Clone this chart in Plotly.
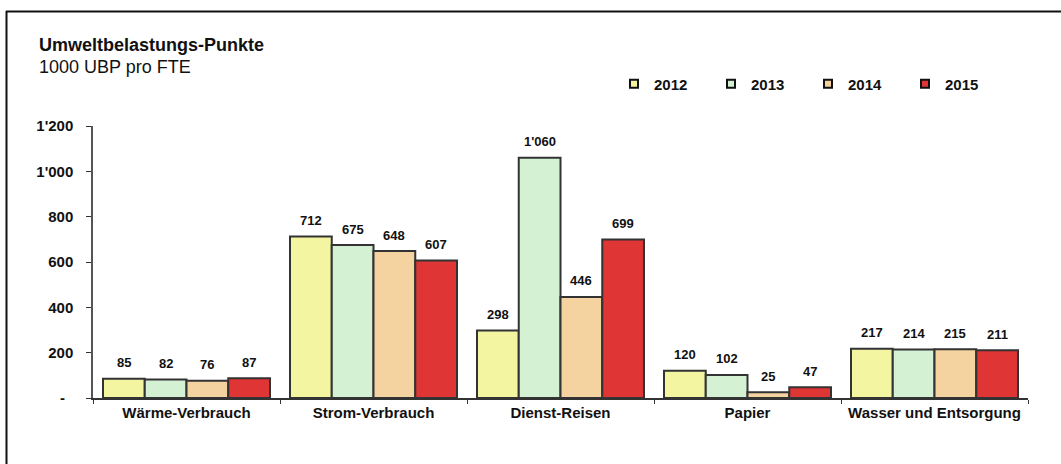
import plotly.graph_objects as go

categories = ["Wärme-Verbrauch", "Strom-Verbrauch", "Dienst-Reisen", "Papier", "Wasser und Entsorgung"]
years = ["2012", "2013", "2014", "2015"]
values = {
    "2012": [85, 712, 298, 120, 217],
    "2013": [82, 675, 1060, 102, 214],
    "2014": [76, 648, 446, 25, 215],
    "2015": [87, 607, 699, 47, 211],
}
colors = {"2012": "#f3f5a0", "2013": "#d4f1d4", "2014": "#f4d3a0", "2015": "#df3535"}
tick_vals = [0, 200, 400, 600, 800, 1000, 1200]
tick_text = ["-\u00a0\u00a0", "200", "400", "600", "800", "1'000", "1'200"]

def fmt(v):
    return f"{v:,}".replace(",", "'")

W, H = 1061, 464
L, R, T, B = 93, 33, 126, 66
plot_w = W - L - R
plot_h = H - T - B
bargap = 0.107
cat_w = plot_w / len(categories)
bar_w = cat_w * (1 - bargap) / len(years)

fig = go.Figure()
for i, y in enumerate(years):
    fig.add_trace(go.Bar(
        x=categories, y=values[y], name=y, showlegend=False,
        marker=dict(color=colors[y], line=dict(color="#333333", width=2)),
    ))
    # legend proxy
    fig.add_trace(go.Scatter(
        x=[None], y=[None], mode="markers", name=y,
        marker=dict(symbol="square", size=8, color=colors[y], line=dict(color="#111111", width=2)),
    ))

annotations = []
for i, y in enumerate(years):
    for c, v in zip(categories, values[y]):
        annotations.append(dict(
            x=c, y=v, xref="x", yref="y", text=f"<b>{fmt(v)}</b>", showarrow=False,
            xshift=(i - 1.5) * bar_w, yshift=16,
            font=dict(family="Liberation Sans Narrow, Arial Narrow, Liberation Sans, Arial", size=13, color="#111111"),
        ))

annotations.append(dict(
    xref="paper", yref="paper", x=(37 - L) / plot_w, y=(H - B - 45) / plot_h,
    xanchor="left", yanchor="middle", showarrow=False,
    text="<b>Umweltbelastungs-Punkte</b>",
    font=dict(family="Liberation Sans, Arial", size=18, color="#111111"),
))
annotations.append(dict(
    xref="paper", yref="paper", x=(37 - L) / plot_w, y=(H - B - 67) / plot_h,
    xanchor="left", yanchor="middle", showarrow=False,
    text="1000 UBP pro FTE",
    font=dict(family="Liberation Sans, Arial", size=18, color="#111111"),
))

fig.update_layout(
    width=W, height=H,
    margin=dict(l=L, r=R, t=T, b=B, autoexpand=False),
    paper_bgcolor="white", plot_bgcolor="white",
    barmode="group", bargap=bargap, bargroupgap=0,
    font=dict(family="Liberation Sans, Arial", color="#111111"),
    annotations=annotations,
    legend=dict(
        orientation="h", x=(614 - L) / plot_w, xanchor="left",
        y=(H - B - 84) / plot_h, yanchor="middle",
        entrywidth=52, entrywidthmode="pixels",
        font=dict(family="Liberation Sans, Arial", size=15, color="#111111", weight="bold"),
        bgcolor="rgba(0,0,0,0)",
    ),
    xaxis=dict(
        showline=True, linecolor="#333333", linewidth=1.5,
        ticks="outside", tickson="boundaries", ticklen=4, tickcolor="#333333",
        tickfont=dict(size=15, weight="bold", color="#111111"),
        tickangle=0, automargin=False,
        showgrid=False,
    ),
    yaxis=dict(
        range=[0, 1200], tickvals=tick_vals, ticktext=tick_text,
        showline=True, linecolor="#555555", linewidth=1.5,
        ticks="outside", ticklen=5, tickcolor="#333333",
        tickfont=dict(size=15, weight="bold", color="#111111"),
        ticklabelstandoff=10, automargin=False,
        showgrid=False, zeroline=False,
    ),
    shapes=[
        dict(type="line", xref="paper", yref="paper",
             x0=(6 - L) / plot_w, x1=(W - L) / plot_w,
             y0=(H - B - 11.5) / plot_h, y1=(H - B - 11.5) / plot_h,
             line=dict(color="#111111", width=2)),
        dict(type="line", xref="paper", yref="paper",
             x0=(6.5 - L) / plot_w, x1=(6.5 - L) / plot_w,
             y0=(H - B - 11) / plot_h, y1=(H - B - H) / plot_h,
             line=dict(color="#111111", width=2)),
    ],
)

fig.write_html("out.html")
